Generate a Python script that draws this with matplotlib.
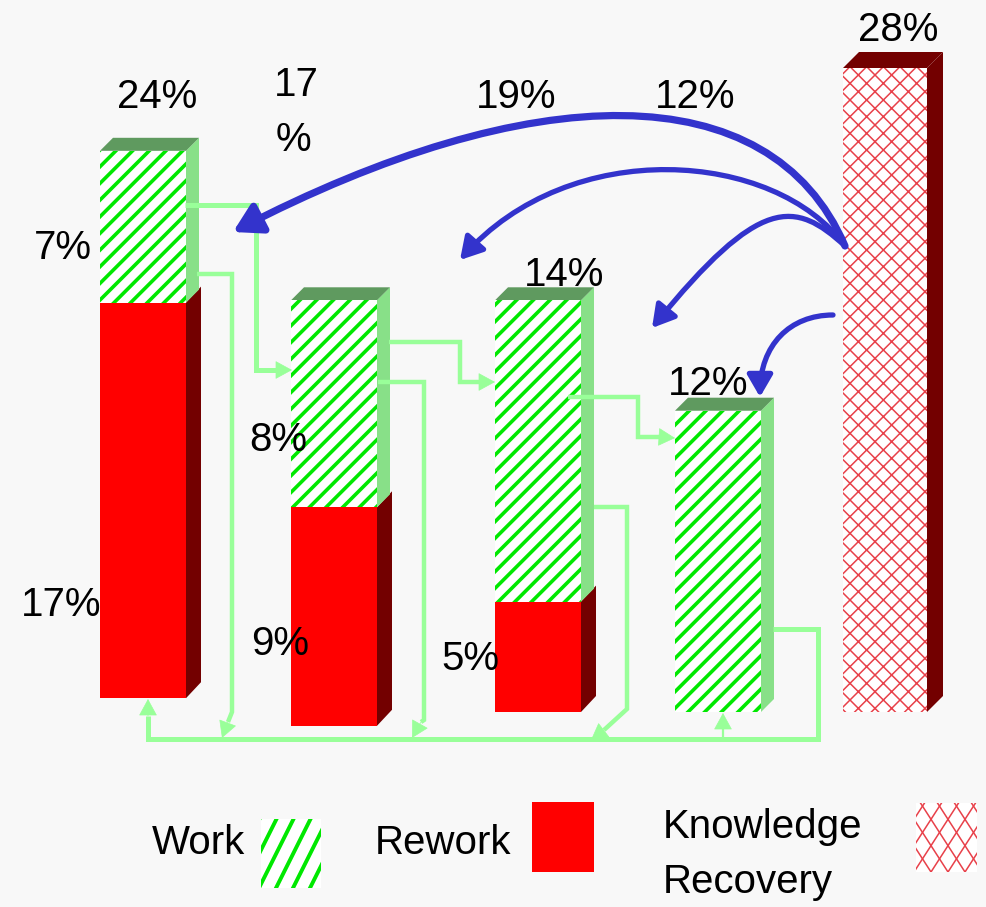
import matplotlib
matplotlib.use("Agg")
import matplotlib.pyplot as plt
import numpy as np
from matplotlib.patches import FancyArrowPatch, Rectangle
from matplotlib.path import Path

# values in percent
work_pct = [6.6, 9.0, 13.1, 13.1]
rework_pct = [17.2, 9.5, 4.8]
knowledge_pct = 28.0
top_labels = ["24%", "", "14%", "12%"]
work_labels = ["7%", "8%"]
rework_labels = ["17%", "9%", "5%"]
transfer_labels = ["19%", "12%"]

W, H = 986, 907
PX_PER_PCT = 23.0
BASE_PX = 712
bar_left = [100, 291, 495, 675]
bar_width = 86
bar_foot = [0.6, -0.6, 0.0]   # feet of the stacks are not level in the original
know_left = 843
know_width = 84

BG = "#f8f8f8"
GREEN = "#00e800"
SIDE_GREEN = "#88e088"
TOP_GREEN = "#5f9a5f"
RED = "#ff0000"
DARK_RED = "#730000"
HATCH_RED = "#e8414a"
PIPE = "#99ff99"
BLUE = "#3333cc"

plt.rcParams["font.family"] = ["Liberation Sans", "DejaVu Sans"]
plt.rcParams["font.size"] = 29

fig = plt.figure(figsize=(W / 100, H / 100), dpi=100, facecolor=BG)

# bars live on a percent scale, everything else on a pixel overlay
ax = fig.add_axes([0, 0, 1, 1], facecolor=BG, zorder=1)
ax.set_xlim(0, W)
ax.set_ylim((BASE_PX - H) / PX_PER_PCT, BASE_PX / PX_PER_PCT)
ax.axis("off")

over = fig.add_axes([0, 0, 1, 1], facecolor="none", zorder=2)
over.set_xlim(0, W)
over.set_ylim(H, 0)
over.axis("off")


def box_sides(x, w, y0, y1, dx, dy, side, top=None):
    # fake 3d: right face and optional top face
    dy = dy / PX_PER_PCT
    ax.fill([x + w, x + w + dx, x + w + dx, x + w], [y1, y1 + dy, y0 + dy, y0],
            color=side, lw=0, zorder=2)
    if top:
        ax.fill([x, x + dx, x + w + dx, x + w], [y1, y1 + dy, y1 + dy, y1],
                color=top, lw=0, zorder=2)


def label(x, y, s, zorder=5):
    over.text(x, y + 3, s, ha="center", va="center", color="black", zorder=zorder)


# label that sits behind the bars
ax.text(564, (BASE_PX - 275) / PX_PER_PCT, top_labels[2], ha="center", va="center", zorder=1)

# the patch picks up hatch.linewidth when it is created
plt.rcParams["hatch.linewidth"] = 2.6
for i, (x, work) in enumerate(zip(bar_left, work_pct)):
    foot = bar_foot[i] if i < len(rework_pct) else 0.0
    rework = rework_pct[i] if i < len(rework_pct) else 0.0
    if rework:
        ax.bar(x, rework, bottom=foot, width=bar_width, align="edge", color=RED, lw=0, zorder=3)
        box_sides(x, bar_width, foot, foot + rework, 15, 16, DARK_RED)
    ax.bar(x, work, bottom=foot + rework, width=bar_width, align="edge",
           facecolor="white", edgecolor=GREEN, hatch="//", lw=0, zorder=3)
    box_sides(x, bar_width, foot + rework, foot + rework + work, 13, 13, SIDE_GREEN, TOP_GREEN)

plt.rcParams["hatch.linewidth"] = 1.1
ax.bar(know_left, knowledge_pct, width=know_width, align="edge",
       facecolor="white", edgecolor=HATCH_RED, hatch="xx", lw=0, zorder=3)
box_sides(know_left, know_width, 0, knowledge_pct, 16, 16, DARK_RED, DARK_RED)


def pipe(points, lw=3.0, head=None):
    xs, ys = zip(*points)
    over.plot(xs, ys, color=PIPE, lw=lw, solid_joinstyle="miter", solid_capstyle="butt", zorder=3)
    if head:
        over.add_patch(FancyArrowPatch(points[-1], head,
                                       arrowstyle="-|>,head_length=0.55,head_width=0.3",
                                       mutation_scale=20, color=PIPE, lw=0.5,
                                       shrinkA=0, shrinkB=0, zorder=3))


pipe([(185, 205), (256, 205), (256, 370), (276, 370)], 3.6, (292, 370))
pipe([(197, 274), (232, 274), (232, 712), (228, 722)], 3.2, (222, 738))
pipe([(378, 382), (424, 382), (424, 720), (421, 722)], 3.2, (412, 738))
pipe([(389, 342), (460, 342), (460, 382), (480, 382)], 3.2, (495, 382))
pipe([(568, 397), (638, 397), (638, 437), (660, 437)], 3.2, (675, 438))
pipe([(594, 507), (627, 507), (627, 709), (604, 730)], 3.2, (591, 740))
pipe([(773, 629), (818, 629), (818, 739), (148, 739), (148, 716)], 3.6, (148, 699))
pipe([(723, 739), (723, 727)], 1.6, (723, 713))


def transfer(pts, lw, scale):
    path = Path(pts, [Path.MOVETO, Path.CURVE4, Path.CURVE4, Path.CURVE4])
    over.add_patch(FancyArrowPatch(path=path, arrowstyle="-|>,head_length=0.55,head_width=0.32",
                                   mutation_scale=scale, color=BLUE, lw=lw,
                                   shrinkA=0, shrinkB=0, zorder=4))


transfer([(845, 246), (770, 72), (530, 78), (233, 232)], 5.2, 30)
transfer([(845, 246), (775, 150), (570, 135), (460, 260)], 3.8, 24)
transfer([(845, 246), (795, 200), (760, 195), (652, 328)], 3.8, 24)
transfer([(833, 315), (790, 315), (760, 345), (760, 397)], 3.8, 24)

label(157, 94, top_labels[0])
label(296, 82, "17")
label(293, 137, "%")
label(516, 94, transfer_labels[0])
label(695, 94, transfer_labels[1])
label(898, 27, "28%")
label(708, 381, top_labels[3])
label(63, 245, work_labels[0])
label(61, 602, rework_labels[0])
label(278, 437, work_labels[1])
label(280, 641, rework_labels[1])
label(470, 656, rework_labels[2])


def swatch(x0, y0, w, h, slopes, period, color, lw):
    # legend boxes have stretched hatching, so it is drawn by hand
    rect = Rectangle((x0, y0), w, h, facecolor="white", lw=0, zorder=3)
    over.add_patch(rect)
    for slope in slopes:
        for c in np.arange(x0 - 2 * h, x0 + w + 2 * h, period):
            ln, = over.plot([c, c + h / slope], [y0 + h, y0], color=color, lw=lw, zorder=3)
            ln.set_clip_path(rect)


swatch(261, 819, 60, 69, [2.0], 17, GREEN, 2.8)
over.add_patch(Rectangle((532, 802), 62, 70, facecolor=RED, lw=0, zorder=3))
swatch(916, 803, 61, 69, [1.55, -1.55], 17, HATCH_RED, 1.1)

label(198, 840, "Work")
label(443, 840, "Rework")
label(763, 824, "Knowledge")
label(748, 879, "Recovery")

fig.savefig("out.png", dpi=100, facecolor=BG)
